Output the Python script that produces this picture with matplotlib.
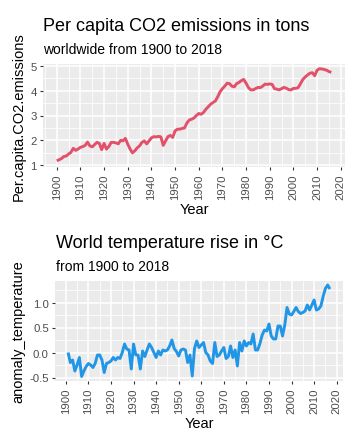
import numpy as np
import matplotlib
matplotlib.use("Agg")
import matplotlib.pyplot as plt
from matplotlib.ticker import MultipleLocator

plt.rcParams['font.family'] = ['Liberation Sans', 'DejaVu Sans']

# per capita CO2 emissions (t), 1900-2016
co2_years = np.arange(1900, 2017)
co2 = [1.18, 1.22, 1.27, 1.35, 1.37, 1.45, 1.52, 1.68, 1.60, 1.65,
       1.72, 1.75, 1.80, 1.93, 1.78, 1.74, 1.83, 1.92, 1.88, 1.63,
       1.88, 1.65, 1.75, 1.92, 1.92, 1.90, 1.86, 2.00, 1.98, 2.08,
       1.85, 1.65, 1.50, 1.58, 1.70, 1.78, 1.92, 1.98, 1.86, 1.98,
       2.10, 2.15, 2.14, 2.16, 2.14, 1.80, 1.98, 2.15, 2.20, 2.12,
       2.38, 2.45, 2.45, 2.48, 2.50, 2.70, 2.82, 2.85, 2.90, 3.00,
       3.08, 3.05, 3.12, 3.25, 3.35, 3.45, 3.52, 3.58, 3.75, 3.95,
       4.08, 4.18, 4.30, 4.28, 4.18, 4.15, 4.28, 4.33, 4.40, 4.45,
       4.30, 4.12, 4.03, 4.03, 4.08, 4.13, 4.12, 4.18, 4.26, 4.25,
       4.27, 4.25, 4.08, 4.06, 4.03, 4.08, 4.13, 4.10, 4.04, 4.03,
       4.09, 4.09, 4.12, 4.28, 4.45, 4.55, 4.63, 4.70, 4.72, 4.60,
       4.82, 4.88, 4.87, 4.85, 4.82, 4.77, 4.73]

# temperature anomaly (degC), 1901-2017
temp_years = np.arange(1901, 2018)
temp = [0.00, -0.20, -0.15, -0.37, -0.25, -0.10, -0.48, -0.37, -0.28, -0.22,
        -0.25, -0.30, -0.22, -0.05, -0.05, -0.15, -0.40, -0.22, -0.20, -0.17,
        -0.10, -0.15, -0.10, -0.12, 0.00, 0.17, 0.07, 0.05, -0.33, 0.17,
        -0.05, -0.05, -0.33, 0.03, -0.08, 0.05, 0.17, 0.10, 0.00, -0.10,
        0.03, -0.05, 0.05, 0.03, 0.05, 0.13, 0.25, 0.08, 0.02, -0.07,
        0.05, 0.07, 0.05, -0.20, -0.05, -0.47, 0.08, 0.23, 0.10, 0.15,
        0.20, 0.00, -0.05, -0.17, -0.22, 0.20, -0.08, -0.05, 0.03, 0.10,
        -0.12, -0.08, 0.13, -0.10, 0.05, -0.27, 0.20, 0.03, 0.23, 0.13,
        0.20, 0.17, 0.37, 0.05, 0.05, 0.18, 0.35, 0.45, 0.43, 0.57,
        0.33, 0.27, 0.27, 0.53, 0.53, 0.33, 0.55, 0.90, 0.77, 0.75,
        0.82, 0.90, 0.82, 0.78, 0.80, 0.83, 0.95, 0.85, 0.95, 1.05,
        0.85, 0.87, 0.93, 1.12, 1.28, 1.35, 1.27]

W, H = 353, 439
fig = plt.figure(figsize=(W / 100, H / 100), dpi=100)


def px_axes(l, t, r, b):
    return fig.add_axes([l / W, 1 - b / H, (r - l) / W, (b - t) / H])


def gg_style(ax, ymajor, yminor):
    ax.set_facecolor('#EBEBEB')
    for s in ax.spines.values():
        s.set_visible(False)
    ax.xaxis.set_major_locator(MultipleLocator(10))
    ax.xaxis.set_minor_locator(MultipleLocator(5))
    ax.yaxis.set_major_locator(MultipleLocator(ymajor))
    ax.yaxis.set_minor_locator(MultipleLocator(yminor))
    ax.grid(which='major', color='white', lw=1.1)
    ax.grid(which='minor', color='white', lw=0.55)
    ax.set_axisbelow(True)
    ax.tick_params(which='major', length=2.5, width=0.8, color='#333333',
                   labelsize=8.2, labelcolor='#4D4D4D', pad=2)
    ax.tick_params(which='minor', length=0)
    ax.tick_params(axis='x', labelrotation=90)


# top panel
ax1 = px_axes(43, 65, 345, 168)
ax1.plot(co2_years, co2, color='#E2506A', lw=2.1, solid_capstyle='butt')
gg_style(ax1, 1, 0.5)
ax1.set_xlim(1894.2, 2021.8)
ax1.set_ylim(0.93, 5.07)
ax1.set_xticks(np.arange(1900, 2021, 10))
ax1.set_xlabel('Year', fontsize=10.5, labelpad=2)
ax1.set_ylabel('Per.capita.CO2.emissions', fontsize=10.5, labelpad=3)
fig.text(43 / W, 1 - 31 / H, 'Per capita CO2 emissions in tons', fontsize=13, va='baseline')
fig.text(43 / W, 1 - 54 / H, 'worldwide from 1900 to 2018', fontsize=10, va='baseline')

# bottom panel
ax2 = px_axes(55, 282, 343, 382)
ax2.plot(temp_years, temp, color='#2196E6', lw=2.1, solid_capstyle='butt')
gg_style(ax2, 0.5, 0.25)
ax2.set_xlim(1895.2, 2022.8)
ax2.set_ylim(-0.57, 1.43)
ax2.set_xticks(np.arange(1900, 2021, 10))
ax2.yaxis.set_major_formatter(plt.FuncFormatter(lambda v, p: '%.1f' % v))
ax2.set_xlabel('Year', fontsize=10.5, labelpad=2)
ax2.set_ylabel('anomaly_temperature', fontsize=10.5, labelpad=3)
fig.text(56 / W, 1 - 248 / H, 'World temperature rise in °C', fontsize=13, va='baseline')
fig.text(56 / W, 1 - 271 / H, 'from 1900 to 2018', fontsize=10, va='baseline')

fig.savefig('out.png', dpi=100, facecolor='white')
